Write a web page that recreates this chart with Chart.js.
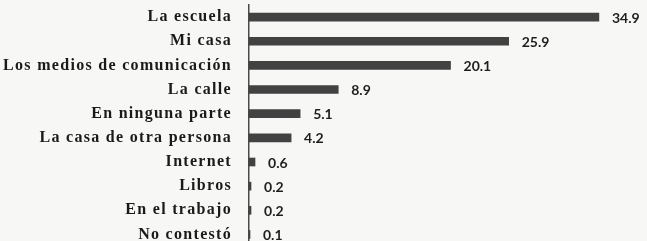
<!DOCTYPE html>
<html>
<head>
<meta charset="utf-8">
<script src="https://cdn.jsdelivr.net/npm/chart.js@4"></script>
<style>
  html, body { margin: 0; padding: 0; background: #f7f7f5; }
</style>
</head>
<body>
<canvas id="placesChart" width="647" height="241"></canvas>
<script>
const categories = [
  "La escuela",
  "Mi casa",
  "Los medios de comunicación",
  "La calle",
  "En ninguna parte",
  "La casa de otra persona",
  "Internet",
  "Libros",
  "En el trabajo",
  "No contestó",
];
const percentages = [34.9, 25.9, 20.1, 8.9, 5.1, 4.2, 0.6, 0.2, 0.2, 0.1];

const valueLabels = {
  id: "valueLabels",
  afterDatasetsDraw(chart) {
    const { ctx } = chart;
    const meta = chart.getDatasetMeta(0);
    ctx.save();
    ctx.letterSpacing = "0px";
    ctx.font = "bold 14px Lato";
    ctx.fillStyle = "#1e1e1e";
    ctx.textAlign = "left";
    ctx.textBaseline = "middle";
    meta.data.forEach((bar, i) => {
      ctx.fillText(percentages[i].toFixed(1), bar.x + 13, bar.y + 1);
    });
    ctx.restore();
  },
};

const spacing = {
  id: "spacing",
  beforeDraw(chart) {
    chart.ctx.letterSpacing = "1.3px";
  },
};

function createPlacesChart() {
  const ctx = document.getElementById("placesChart");
  if (!ctx) return;

  return new Chart(ctx, {
    type: "bar",
    data: {
      datasets: [
        {
          data: percentages.map((v, i) => ({ x: v, y: i })),
          backgroundColor: "#424242",
          barThickness: 8,
          clip: false,
        },
      ],
    },
    options: {
      indexAxis: "y",
      responsive: false,
      animation: false,
      layout: {
        padding: { top: 5, bottom: 0, right: 7, left: 0 },
      },
      plugins: {
        legend: { display: false },
        tooltip: { enabled: false },
      },
      scales: {
        x: {
          type: "linear",
          display: false,
          min: 0,
          max: 39,
        },
        y: {
          type: "linear",
          offset: false,
          reverse: true,
          min: -0.5,
          max: 9.27,
          afterBuildTicks: (scale) => {
            scale.ticks = categories.map((_, i) => ({ value: i }));
          },
          afterFit: (scale) => {
            scale.width = 249;
            scale.paddingTop = 0;
            scale.paddingBottom = 0;
          },
          grid: { display: false, drawTicks: false, tickLength: 0 },
          border: { display: true, color: "#4a4a4a", width: 1.5 },
          ticks: {
            autoSkip: false,
            padding: 17,
            color: "#1a1a1a",
            font: { family: "Liberation Serif", weight: "bold", size: 16 },
            callback: (value) => categories[value],
          },
        },
      },
    },
    plugins: [spacing, valueLabels],
  });
}

document.addEventListener("DOMContentLoaded", createPlacesChart);
</script>
</body>
</html>
